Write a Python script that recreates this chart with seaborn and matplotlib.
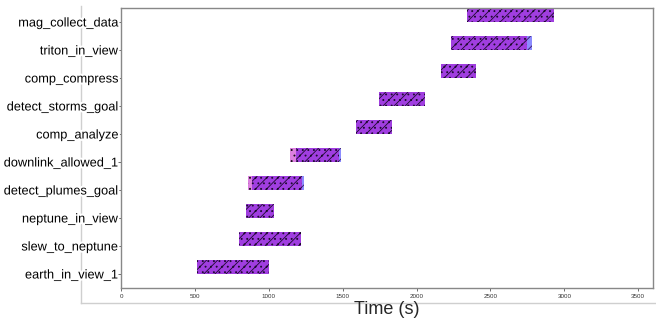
import numpy as np
import seaborn as sns
import matplotlib.pyplot as plt
import matplotlib.patheffects as pe

sns.set_theme(style='white')
plt.rcParams['font.family'] = ['Liberation Sans', 'DejaVu Sans']
plt.rcParams['hatch.linewidth'] = 0.6

# tasks, bottom row first
tasks = ['earth_in_view_1', 'slew_to_neptune', 'neptune_in_view', 'detect_plumes_goal',
         'downlink_allowed_1', 'comp_analyze', 'detect_storms_goal', 'comp_compress',
         'triton_in_view', 'mag_collect_data']

# planned window (pink) and executed window (blue), seconds
plan_start = [515, 800, 846, 861, 1144, 1591, 1747, 2167, 2234, 2343]
plan_end = [1002, 1218, 1036, 1224, 1476, 1835, 2058, 2404, 2749, 2932]
exec_start = [515, 800, 846, 885, 1185, 1591, 1747, 2167, 2234, 2343]
exec_end = [1002, 1218, 1036, 1240, 1490, 1835, 2058, 2404, 2783, 2932]

xticks = [0, 500, 1000, 1500, 2000, 2500, 3000, 3500]

fig = plt.figure(figsize=(6.56, 3.2), dpi=100)

# faint outer frame behind everything
bg = fig.add_axes([81 / 656, 17 / 320, 575 / 656, 297 / 320], zorder=0)
bg.set_xticks([])
bg.set_yticks([])
for s in ['top', 'right']:
    bg.spines[s].set_visible(False)
for s in ['left', 'bottom']:
    bg.spines[s].set_color('#cfcfcf')
    bg.spines[s].set_linewidth(1.0)
bg.patch.set_alpha(0)

ax = fig.add_axes([121 / 656, 32 / 320, 532 / 656, 280 / 320], zorder=1)

y = np.arange(len(tasks))
ps, pe_, es, ee = map(np.array, (plan_start, plan_end, exec_start, exec_end))
ov_s = np.maximum(ps, es)
ov_e = np.minimum(pe_, ee)

ax.barh(y, pe_ - ps, left=ps, height=0.5, align='edge', color='#dc80e0',
        hatch='...', edgecolor='#111111', linewidth=0)
ax.barh(y, ee - es, left=es, height=0.5, align='edge', color='#8c8cff',
        hatch='///', edgecolor='#3a1a66', linewidth=0)
ax.barh(y, ov_e - ov_s, left=ov_s, height=0.5, align='edge', color='#a03ee0',
        hatch='///...', edgecolor='#1e0a30', linewidth=0)

ax.set_ylim(-0.5, 9.5)
ax.set_xlim(0, 3600)
ax.set_yticks(y)
ax.set_yticklabels(tasks, fontsize=9.2, color='black')
ax.set_xticks(xticks)
ax.set_xticklabels([str(t) for t in xticks], fontsize=4.5, color='#333333')
ax.tick_params(axis='y', length=2, width=0.6, color='#555555', pad=0, left=True)
ax.tick_params(axis='x', length=2, width=0.6, color='#555555', pad=2, bottom=True)
for lab in ax.get_yticklabels():
    lab.set_path_effects([pe.withStroke(linewidth=3, foreground='white')])
for s in ax.spines.values():
    s.set_color('#888888')
    s.set_linewidth(1.0)

ax.set_xlabel('Time (s)', fontsize=13, labelpad=2)

fig.savefig('out.png', dpi=100)
